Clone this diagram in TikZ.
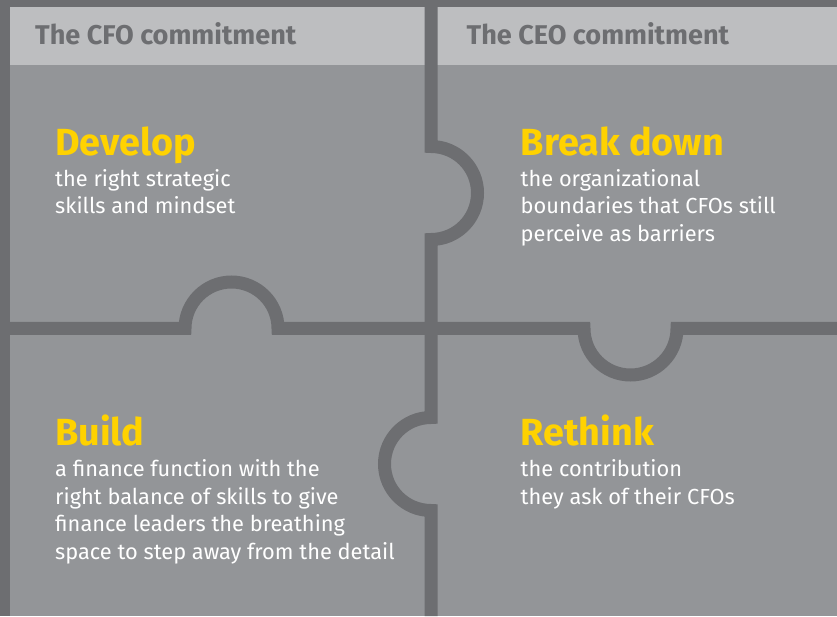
\documentclass[tikz,border=0pt]{standalone}
\usepackage{fontspec}
\setmainfont{Fira Sans}
\definecolor{darkgr}{HTML}{6D6E71}
\definecolor{panelgr}{HTML}{939598}
\definecolor{headgr}{HTML}{BDBEC0}
\definecolor{eyyellow}{HTML}{FFD200}
\begin{document}
\begin{tikzpicture}[x=1pt,y=1pt,
  hdr/.style={anchor=base west,inner sep=0pt,text=darkgr,font=\fontsize{27.1}{31}\selectfont\bfseries},
  ttl/.style={anchor=base west,inner sep=0pt,text=eyyellow,font=\fontsize{37.8}{42}\selectfont\bfseries},
  bdy/.style={anchor=base west,inner sep=0pt,text=white,font=\fontsize{21.8}{26}\selectfont},
  divider/.style={draw=darkgr,line width=13pt,line join=miter}]
\useasboundingbox (0,0) rectangle (837,616);
% background and panels
\fill[darkgr] (0,0) rectangle (837,616);
\fill[panelgr] (10,0) rectangle (837,609);
\fill[headgr] (10,551) rectangle (837,609);
% dividers with puzzle nubs
\draw[divider] (431,616) -- (431,469.5)
  arc[start angle=90,end angle=-90,radius=46.5pt]
  -- (431,198.5)
  arc[start angle=90,end angle=270,radius=46.5pt]
  -- (431,0);
\draw[divider] (10,287.5) -- (185,287.5)
  arc[start angle=180,end angle=0,radius=46.5pt]
  -- (584,287.5)
  arc[start angle=180,end angle=360,radius=46.5pt]
  -- (837,287.5);
% headers
\node[hdr] (hcfo) at (35,571) {The CFO commitment};
\node[hdr] (hceo) at (466.5,571) {The CEO commitment};
% top left
\node[ttl] (tdev) at (55,460.5) {Develop};
\node[bdy] (dev1) at (55,429.5) {the right strategic};
\node[bdy] (dev2) at (55,402) {skills and mindset};
% top right
\node[ttl] (tbrk) at (520.5,460) {Break down};
\node[bdy] (brk1) at (520.5,429.5) {the organizational};
\node[bdy] (brk2) at (520.5,402) {boundaries that CFOs still};
\node[bdy] (brk3) at (520.5,374.5) {perceive as barriers};
% bottom left
\node[ttl] (tbld) at (55,171) {Build};
\node[bdy] (bld1) at (55,139.5) {a finance function with the};
\node[bdy] (bld2) at (55,112) {right balance of skills to give};
\node[bdy] (bld3) at (55,84.5) {finance leaders the breathing};
\node[bdy] (bld4) at (55,57) {space to step away from the detail};
% bottom right
\node[ttl] (tret) at (520.5,170.5) {Rethink};
\node[bdy] (ret1) at (520.5,139.5) {the contribution};
\node[bdy] (ret2) at (520.5,112) {they ask of their CFOs};
\end{tikzpicture}
\end{document}
